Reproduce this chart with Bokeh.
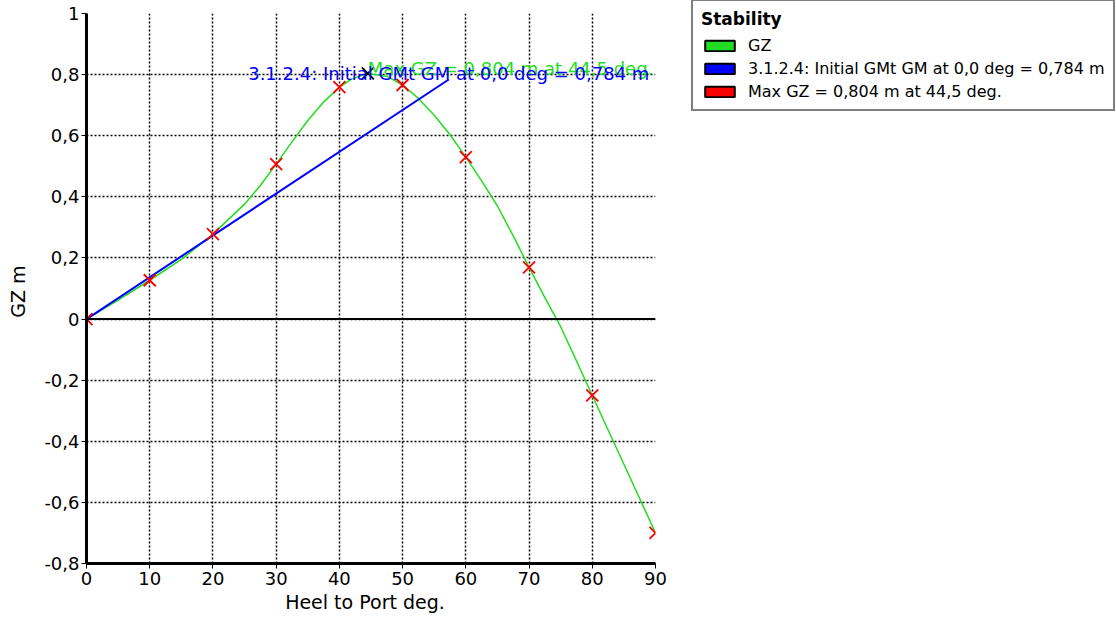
import numpy as np
from bokeh.plotting import figure
from bokeh.models import Range1d, FixedTicker, Span, Legend, LegendItem
from bokeh.embed import file_html
from bokeh.resources import INLINE
from bokeh.core.properties import value

# ---- data ----
heel_deg = [0, 10, 20, 30, 40, 50, 60, 70, 80, 90]
gz_m = [0.0, 0.127, 0.278, 0.507, 0.759, 0.766, 0.53, 0.169, -0.25, -0.70]

curve_heel = [0, 5, 10, 15, 20, 25, 27.5, 30, 32.5, 35, 37.5, 40, 42, 44.5, 47.5, 50, 52.5, 55,
              57.5, 60, 62.5, 65, 67.5, 70, 72.5, 75, 77.5, 80, 85, 90]
curve_gz = [0.0, 0.062, 0.127, 0.195, 0.278, 0.376, 0.437, 0.507, 0.58, 0.65, 0.71, 0.759, 0.786,
            0.804, 0.795, 0.766, 0.722, 0.667, 0.603, 0.53, 0.452, 0.37, 0.272, 0.169, 0.07, -0.025,
            -0.137, -0.25, -0.475, -0.70]

gm_heel = [0, 57.3]
gm_gz = [0, 0.784]

max_heel = [44.5]
max_gz = [0.804]

x_ticks = [0, 10, 20, 30, 40, 50, 60, 70, 80, 90]
x_tick_labels = ["0", "10", "20", "30", "40", "50", "60", "70", "80", "90"]
y_ticks = [-0.8, -0.6, -0.4, -0.2, 0, 0.2, 0.4, 0.6, 0.8, 1]
y_tick_labels = ["-0,8", "-0,6", "-0,4", "-0,2", "0", "0,2", "0,4", "0,6", "0,8", "1"]

gm_text = "3.1.2.4: Initial GMt GM at 0,0 deg = 0,784 m"
max_text = "Max GZ = 0,804 m at 44,5 deg."
legend_title = "Stability"
legend_labels = ["GZ", gm_text, max_text]

FONT = "DejaVu Sans"
GREEN = "#22dd22"
BLUE = "#0000ff"
RED = "#ff0000"

# ---- main chart ----
p = figure(frame_width=569, frame_height=550, x_range=Range1d(0, 90), y_range=Range1d(-0.8, 1),
           min_border_left=86, min_border_right=24, min_border_top=13, min_border_bottom=54,
           output_backend="svg", toolbar_location=None)
p.outline_line_color = None
p.background_fill_color = "white"

for ax in (p.xaxis[0], p.yaxis[0]):
    ax.axis_line_width = 3
    ax.axis_line_color = "black"
    ax.major_tick_out = 5
    ax.major_tick_in = 0
    ax.major_tick_line_color = "black"
    ax.minor_tick_line_color = None
    ax.major_label_text_font = FONT
    ax.major_label_text_font_size = "18px"
    ax.major_label_text_color = "black"
    ax.axis_label_text_font = FONT
    ax.axis_label_text_font_size = "19px"
    ax.axis_label_text_font_style = "normal"
    ax.axis_label_text_color = "black"

p.xaxis.major_label_standoff = 3
p.yaxis.major_label_standoff = 2
p.xaxis.ticker = FixedTicker(ticks=x_ticks)
p.yaxis.ticker = FixedTicker(ticks=y_ticks)
p.xaxis.major_label_overrides = dict(zip(x_ticks, x_tick_labels))
p.yaxis.major_label_overrides = dict(zip(y_ticks, y_tick_labels))
p.xaxis.axis_label = "Heel to Port   deg."
p.yaxis.axis_label = "GZ  m"
p.xaxis.axis_label_standoff = 3
p.yaxis.axis_label_standoff = 12

p.grid.grid_line_color = "black"
p.grid.grid_line_dash = "2 2"
p.grid.grid_line_width = 1.5

p.add_layout(Span(location=0, dimension="width", line_color="black", line_width=2))

p.line(curve_heel, curve_gz, line_color=GREEN, line_width=1.5)
p.line(gm_heel, gm_gz, line_color=BLUE, line_width=2)
p.scatter(heel_deg, gz_m, marker="x", size=17, line_color=RED, line_width=1.8)
p.scatter(max_heel, max_gz, marker="x", size=17, line_color="black", line_width=1.8)

p.text(x=max_heel, y=max_gz, text=[max_text], text_align="left", text_baseline="alphabetic",
       y_offset=-5, text_color=GREEN, text_font=value(FONT), text_font_size="18px")
p.text(x=[gm_heel[1]], y=[gm_gz[1]], text=[gm_text], text_align="center", text_baseline="alphabetic",
       y_offset=-6, text_color=BLUE, text_font=value(FONT), text_font_size="18px")

# ---- legend (swatches from renderers without visible data) ----
nan = np.array([np.nan])
r_g = p.quad(left=nan, right=nan, top=nan, bottom=nan, fill_color=GREEN, line_color="black", line_width=2)
r_b = p.quad(left=nan, right=nan, top=nan, bottom=nan, fill_color=BLUE, line_color="black", line_width=2)
r_r = p.quad(left=nan, right=nan, top=nan, bottom=nan, fill_color=RED, line_color="black", line_width=2)

legend = Legend(items=[LegendItem(label=legend_labels[0], renderers=[r_g]),
                       LegendItem(label=legend_labels[1], renderers=[r_b]),
                       LegendItem(label=legend_labels[2], renderers=[r_r])],
                title=legend_title, location=(36, 452))
legend.title_text_font = FONT
legend.title_text_font_size = "17px"
legend.title_text_font_style = "bold"
legend.title_text_color = "black"
legend.title_standoff = 6
legend.label_text_font = FONT
legend.label_text_font_size = "16px"
legend.label_text_color = "black"
legend.glyph_width = 37
legend.glyph_height = 13
legend.label_standoff = 10
legend.label_height = 20
legend.spacing = 3
legend.padding = 8
legend.margin = 0
legend.border_line_color = "black"
legend.border_line_width = 2
legend.background_fill_alpha = 1
p.add_layout(legend, "right")

open("out.html", "w").write(file_html(p, INLINE))
